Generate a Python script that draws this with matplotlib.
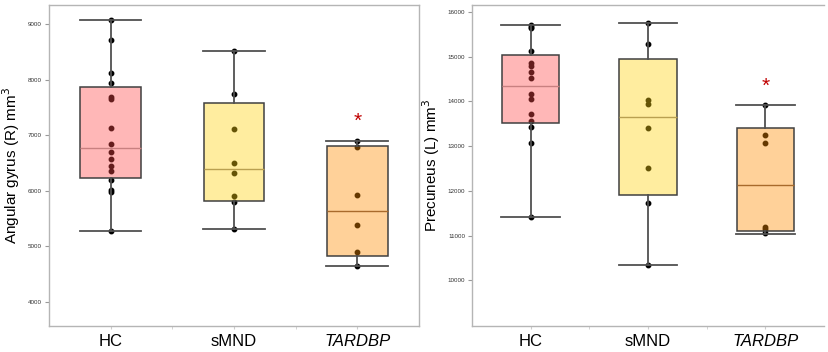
import matplotlib.pyplot as plt
from matplotlib.colors import to_rgba

plt.rcParams['font.family'] = ['Liberation Sans', 'DejaVu Sans']

groups = ['HC', 'sMND', 'TARDBP']
box_colors = ['#ff4b4b', '#ffd411', '#ff8e00']
median_colors = ['#c88080', '#b9a050', '#a86a2c']

# angular gyrus (R), mm^3
ang_points = [
    [9084, 8718, 8130, 7938, 7685, 7655, 7127, 6845, 6707, 6569, 6449, 6359, 6197, 6017, 5987, 5273],
    [8526, 7752, 7121, 6503, 6329, 5903, 5807, 5321],
    [6905, 6797, 5927, 5387, 4900, 4648],
]
ang_q1 = [6227, 5825, 4828]
ang_med = [6779, 6401, 5645]
ang_q3 = [7866, 7577, 6809]
ang_lo = [5273, 5321, 4648]
ang_hi = [9084, 8526, 6905]
ang_star = 7250

# precuneus (L), mm^3
pre_points = [
    [15701, 15660, 15640, 15127, 14851, 14791, 14657, 14522, 14157, 14052, 13724, 13552, 13433, 13082, 11410],
    [15754, 15276, 14030, 13933, 13410, 12522, 11731, 10351],
    [13925, 13254, 13075, 11194, 11149, 11060],
]
pre_q1 = [13522, 11918, 11112]
pre_med = [14336, 13657, 12142]
pre_q3 = [15045, 14948, 13410]
pre_lo = [11410, 10351, 11045]
pre_hi = [15701, 15754, 13925]
pre_star = 14336


def draw_panel(ax, points, q1, med, q3, lo, hi, star_y, ylabel, yticks, ylim):
    x = list(range(len(groups)))
    # dots first, box drawn on top semi-transparent (like JMP output)
    for i, vals in enumerate(points):
        ax.plot([i] * len(vals), vals, 'o', color='black', markersize=3.2, zorder=1)
    stats = []
    for i in x:
        stats.append(dict(med=med[i], q1=q1[i], q3=q3[i], whislo=lo[i], whishi=hi[i], label=groups[i]))
    bp = ax.bxp(stats, positions=x, widths=0.49, patch_artist=True, showfliers=False,
                whiskerprops=dict(color='#505050', lw=1.3),
                capprops=dict(color='#505050', lw=1.3),
                boxprops=dict(edgecolor='#404040', lw=1.1),
                medianprops=dict(lw=1.0), capwidths=0.5)
    for i, patch in enumerate(bp['boxes']):
        patch.set_facecolor(to_rgba(box_colors[i], 0.4))
        patch.set_edgecolor('#404040')
        patch.set_zorder(2)
        bp['medians'][i].set_color(median_colors[i])
        bp['medians'][i].set_zorder(3)
    ax.text(2, star_y, '*', color='#c00000', fontsize=15, ha='center', va='center')

    ax.set_xlim(-0.5, 2.5)
    ax.set_ylim(*ylim)
    ax.set_yticks(yticks)
    ax.set_yticklabels([str(t) for t in yticks], fontsize=4.5, color='#333333')
    ax.set_xticks(x)
    ax.set_xticklabels(groups, fontsize=12)
    ax.get_xticklabels()[2].set_style('italic')
    ax.set_xticks([0.5, 1.5], minor=True)
    ax.tick_params(axis='x', which='both', length=2, color='#cccccc', pad=4)
    ax.tick_params(axis='y', length=3, color='#999999', pad=2)
    ax.set_ylabel(ylabel, fontsize=11, labelpad=4)
    for s in ax.spines.values():
        s.set_color('#b5b5b5')
        s.set_linewidth(1.0)


fig = plt.figure(figsize=(8.29, 3.52), dpi=100)
ax1 = fig.add_axes([0.0591, 0.0739, 0.4463, 0.912])
ax2 = fig.add_axes([0.5694, 0.0739, 0.4246, 0.912])

draw_panel(ax1, ang_points, ang_q1, ang_med, ang_q3, ang_lo, ang_hi, ang_star,
           'Angular gyrus (R) mm$^3$', [4000, 5000, 6000, 7000, 8000, 9000], (3568, 9348))
draw_panel(ax2, pre_points, pre_q1, pre_med, pre_q3, pre_lo, pre_hi, pre_star,
           'Precuneus (L) mm$^3$', [10000, 11000, 12000, 13000, 14000, 15000, 16000], (8980, 16157))
ax2.spines['right'].set_visible(False)

fig.savefig('out.png', dpi=100)
